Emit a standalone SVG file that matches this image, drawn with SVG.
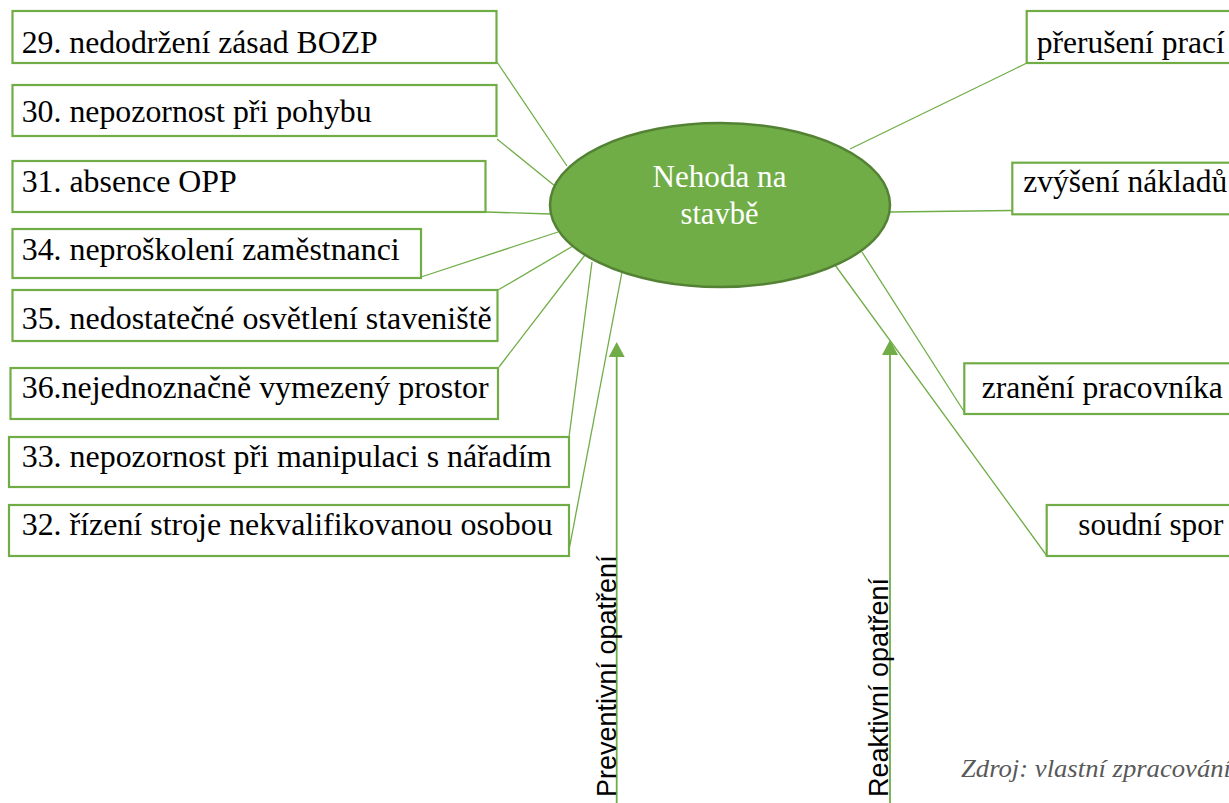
<svg xmlns="http://www.w3.org/2000/svg" width="1229" height="803" viewBox="0 0 1229 803">
  <style>
    .box { fill: #ffffff; stroke: #70AD47; stroke-width: 2.2; }
    .lbl { font-family: "Liberation Serif", Tinos, "Times New Roman", "DejaVu Serif", serif; font-size: 31px; fill: #000000; }
    .link { stroke: #70AD47; stroke-width: 1.3; fill: none; }
    .axis { stroke: #70AD47; stroke-width: 1.8; fill: none; marker-end: url(#head); }
    .axis-lbl { font-family: "Liberation Sans", Arial, sans-serif; font-size: 27px; fill: #000000; }
    .hub { fill: #70AD47; stroke: #548235; stroke-width: 2.5; }
    .hub-lbl { font-family: "Liberation Serif", Tinos, "Times New Roman", "DejaVu Serif", serif; font-size: 31px; fill: #ffffff; text-anchor: middle; }
    .note { font-family: "Liberation Serif", Tinos, "Times New Roman", "DejaVu Serif", serif; font-style: italic; font-size: 25px; fill: #595959; }
  </style>
  <defs>
    <marker id="head" markerUnits="userSpaceOnUse" markerWidth="15" markerHeight="16" viewBox="0 0 15 16" refX="0" refY="8" orient="auto">
      <path d="M0,0 L15,8 L0,16 z" fill="#70AD47"/>
    </marker>
  </defs>

  <rect width="1229" height="803" fill="#ffffff"/>

  <!-- connectors -->
  <g id="connectors">
    <line class="link" x1="497" y1="62" x2="567" y2="166"/>
    <line class="link" x1="497" y1="139" x2="555" y2="186"/>
    <line class="link" x1="486" y1="212" x2="550" y2="214"/>
    <line class="link" x1="421" y1="277" x2="558" y2="232"/>
    <line class="link" x1="498" y1="290" x2="573" y2="246"/>
    <line class="link" x1="499" y1="367" x2="585" y2="255"/>
    <line class="link" x1="569" y1="437" x2="592" y2="262"/>
    <line class="link" x1="569" y1="550" x2="622" y2="272"/>
    <line class="link" x1="850" y1="149" x2="1027" y2="63"/>
    <line class="link" x1="890" y1="212" x2="1012" y2="210.5"/>
    <line class="link" x1="862" y1="252" x2="965" y2="413"/>
    <line class="link" x1="835" y1="265" x2="1047" y2="556"/>
    <line class="axis" x1="616.7" y1="803" x2="616.7" y2="357"/>
    <line class="axis" x1="890" y1="803" x2="890" y2="355"/>
  </g>

  <!-- causes -->
  <g id="cause-29">
    <rect class="box" x="12.5" y="11" width="484" height="52"/>
    <text class="lbl" x="21.7" y="53.3" textLength="356" lengthAdjust="spacingAndGlyphs">29. nedodržení zásad BOZP</text>
  </g>
  <g id="cause-30">
    <rect class="box" x="12.5" y="85" width="484" height="51"/>
    <text class="lbl" x="21.7" y="121.7" textLength="350" lengthAdjust="spacingAndGlyphs">30. nepozornost při pohybu</text>
  </g>
  <g id="cause-31">
    <rect class="box" x="12.5" y="161" width="473" height="51"/>
    <text class="lbl" x="21.7" y="191.7" textLength="215" lengthAdjust="spacingAndGlyphs">31. absence OPP</text>
  </g>
  <g id="cause-34">
    <rect class="box" x="12.5" y="229" width="408.5" height="49"/>
    <text class="lbl" x="21.7" y="260" textLength="378" lengthAdjust="spacingAndGlyphs">34. neproškolení zaměstnanci</text>
  </g>
  <g id="cause-35">
    <rect class="box" x="12.5" y="290" width="485" height="51"/>
    <text class="lbl" x="21.7" y="329.3" textLength="470" lengthAdjust="spacingAndGlyphs">35. nedostatečné osvětlení staveniště</text>
  </g>
  <g id="cause-36">
    <rect class="box" x="10.5" y="368" width="487.5" height="51"/>
    <text class="lbl" x="21.7" y="398.3" textLength="467" lengthAdjust="spacingAndGlyphs">36.nejednoznačně vymezený prostor</text>
  </g>
  <g id="cause-33">
    <rect class="box" x="9" y="437" width="560" height="50"/>
    <text class="lbl" x="21.7" y="466.7" textLength="530" lengthAdjust="spacingAndGlyphs">33. nepozornost při manipulaci s nářadím</text>
  </g>
  <g id="cause-32">
    <rect class="box" x="9" y="505" width="560" height="51"/>
    <text class="lbl" x="21.7" y="535" textLength="531" lengthAdjust="spacingAndGlyphs">32. řízení stroje nekvalifikovanou osobou</text>
  </g>

  <!-- central event -->
  <g id="accident">
    <ellipse class="hub" cx="720" cy="205" rx="170" ry="82"/>
    <text class="hub-lbl" x="719.5" y="187.3" textLength="134" lengthAdjust="spacingAndGlyphs">Nehoda na</text>
    <text class="hub-lbl" x="719.5" y="224" textLength="78" lengthAdjust="spacingAndGlyphs">stavbě</text>
  </g>

  <!-- consequences -->
  <g id="effect-interruption">
    <rect class="box" x="1026.7" y="11" width="220" height="52"/>
    <text class="lbl" x="1036.7" y="53.3" textLength="188" lengthAdjust="spacingAndGlyphs">přerušení prací</text>
  </g>
  <g id="effect-costs">
    <rect class="box" x="1012.3" y="162.7" width="230" height="51.6"/>
    <text class="lbl" x="1023.3" y="191.7" textLength="204" lengthAdjust="spacingAndGlyphs">zvýšení nákladů</text>
  </g>
  <g id="effect-injury">
    <rect class="box" x="964.3" y="363.3" width="280" height="50.7"/>
    <text class="lbl" x="981.7" y="398.3" textLength="241" lengthAdjust="spacingAndGlyphs">zranění pracovníka</text>
  </g>
  <g id="effect-lawsuit">
    <rect class="box" x="1046.7" y="505" width="200" height="51"/>
    <text class="lbl" x="1078.3" y="535" textLength="145" lengthAdjust="spacingAndGlyphs">soudní spor</text>
  </g>

  <!-- measure axes -->
  <g id="preventive">
    <text class="axis-lbl" transform="translate(616,797) rotate(-90)">Preventivní opatření</text>
  </g>
  <g id="reactive">
    <text class="axis-lbl" transform="translate(888,797) rotate(-90)">Reaktivní opatření</text>
  </g>

  <g id="source">
    <text class="note" x="961" y="777" textLength="270" lengthAdjust="spacingAndGlyphs">Zdroj: vlastní zpracování</text>
  </g>
</svg>
